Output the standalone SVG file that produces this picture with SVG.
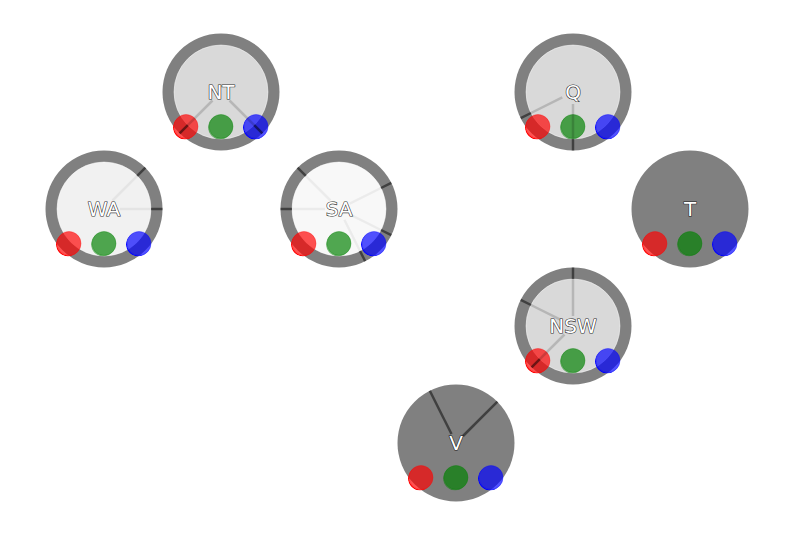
<svg xmlns="http://www.w3.org/2000/svg" xmlns:xlink="http://www.w3.org/1999/xlink" width="794" height="536" viewBox="0 0 794 536">
<style>
.ring{fill:#808080}
.disc{stroke:#fff;stroke-opacity:.45;stroke-width:1}
.dot{fill-opacity:.68;stroke-width:1;stroke-opacity:.35}
.r{fill:#f00;stroke:#f00}
.g{fill:#008000;stroke:#008000}
.b{fill:#00f;stroke:#00f}
.lbl{font-family:"DejaVu Sans",sans-serif;font-size:20px;fill:#fff;stroke:#000;stroke-width:1.2;stroke-opacity:.85;paint-order:stroke;text-anchor:middle}
.in{stroke:#000;stroke-opacity:.16;stroke-width:2.5;fill:none}
.faint{stroke-opacity:.05}
.seg{stroke:#000;stroke-opacity:.5;stroke-width:2.5;fill:none}
</style>
<defs>
<mask id="cm">
<circle cx="-1" cy="1" r="12" fill="#fff"/>
<circle cx="0" cy="0" r="12" fill="#000"/>
</mask>
<circle id="cr" cx="-1" cy="1" r="12" mask="url(#cm)"/>
<g id="dots">
<circle class="dot r" cx="-35" cy="34.5" r="12"/>
<circle class="dot g" cx="0" cy="34.5" r="12"/>
<circle class="dot b" cx="35" cy="34.5" r="12"/>
<use xlink:href="#cr" x="-35" y="34.5" fill="#f00"/>
<use xlink:href="#cr" x="0" y="34.5" fill="#008000" opacity=".5"/>
<use xlink:href="#cr" x="35" y="34.5" fill="#00f"/>
</g>
</defs>
<rect width="794" height="536" fill="#fff"/>

<g id="node-NT">
<circle class="ring" cx="221" cy="92" r="58.5"/>
<circle class="disc" cx="221" cy="92" r="47" fill="#d9d9d9"/>
<use xlink:href="#dots" x="221" y="92"/>
</g>
<g id="node-WA">
<circle class="ring" cx="104" cy="209" r="58.5"/>
<circle class="disc" cx="104" cy="209" r="47" fill="#f1f1f1"/>
<use xlink:href="#dots" x="104" y="209"/>
</g>
<g id="node-SA">
<circle class="ring" cx="339" cy="209" r="58.5"/>
<circle class="disc" cx="339" cy="209" r="47" fill="#f8f8f8"/>
<use xlink:href="#dots" x="339" y="209"/>
</g>
<g id="node-Q">
<circle class="ring" cx="573" cy="92" r="58.5"/>
<circle class="disc" cx="573" cy="92" r="47" fill="#d9d9d9"/>
<use xlink:href="#dots" x="573" y="92"/>
</g>
<g id="node-T">
<circle class="ring" cx="690" cy="209" r="58.5"/>
<use xlink:href="#dots" x="690" y="209"/>
</g>
<g id="node-NSW">
<circle class="ring" cx="573" cy="326" r="58.5"/>
<circle class="disc" cx="573" cy="326" r="47" fill="#d9d9d9"/>
<use xlink:href="#dots" x="573" y="326"/>
</g>
<g id="node-V">
<circle class="ring" cx="456" cy="443" r="58.5"/>
<use xlink:href="#dots" x="456" y="443"/>
</g>

<g id="connectors">
<line class="in" x1="212.5" y1="100.5" x2="187.8" y2="125.2"/>
<line class="seg" x1="187.8" y1="125.2" x2="179.6" y2="133.4"/>
<line class="in" x1="229.5" y1="100.5" x2="254.2" y2="125.2"/>
<line class="seg" x1="254.2" y1="125.2" x2="262.4" y2="133.4"/>
<line class="in faint" x1="112.5" y1="200.5" x2="137.2" y2="175.8"/>
<line class="seg" x1="137.2" y1="175.8" x2="145.4" y2="167.6"/>
<line class="in faint" x1="120" y1="209" x2="151" y2="209"/>
<line class="seg" x1="151" y1="209" x2="162.5" y2="209"/>
<line class="in faint" x1="325" y1="209" x2="292" y2="209"/>
<line class="seg" x1="292" y1="209" x2="280.5" y2="209"/>
<line class="in faint" x1="330.5" y1="200.5" x2="305.8" y2="175.8"/>
<line class="seg" x1="305.8" y1="175.8" x2="297.6" y2="167.6"/>
<line class="in faint" x1="349.7" y1="203.6" x2="381" y2="188"/>
<line class="seg" x1="381" y1="188" x2="391.3" y2="182.8"/>
<line class="in faint" x1="349.7" y1="214.4" x2="381" y2="230"/>
<line class="seg" x1="381" y1="230" x2="391.3" y2="235.2"/>
<line class="in faint" x1="344.4" y1="219.7" x2="360" y2="251"/>
<line class="seg" x1="360" y1="251" x2="365.2" y2="261.3"/>
<line class="in" x1="562.3" y1="97.4" x2="531" y2="113"/>
<line class="seg" x1="531" y1="113" x2="520.7" y2="118.2"/>
<line class="in" x1="573" y1="104" x2="573" y2="139"/>
<line class="seg" x1="573" y1="139" x2="573" y2="150.5"/>
<line class="in" x1="573" y1="316" x2="573" y2="279"/>
<line class="seg" x1="573" y1="279" x2="573" y2="267.5"/>
<line class="in" x1="562.3" y1="320.6" x2="531" y2="305"/>
<line class="seg" x1="531" y1="305" x2="520.7" y2="299.8"/>
<line class="in" x1="564.5" y1="334.5" x2="539.8" y2="359.2"/>
<line class="seg" x1="539.8" y1="359.2" x2="531.6" y2="367.4"/>
<line class="seg" x1="451.5" y1="434" x2="429.8" y2="390.7"/>
<line class="seg" x1="463" y1="436" x2="497.4" y2="401.6"/>
</g>

<g id="labels">
<text class="lbl" x="221" y="99">NT</text>
<text class="lbl" x="104" y="216">WA</text>
<text class="lbl" x="339" y="216">SA</text>
<text class="lbl" x="573" y="99">Q</text>
<text class="lbl" x="690" y="216">T</text>
<text class="lbl" x="573" y="333">NSW</text>
<text class="lbl" x="456" y="450">V</text>
</g>
</svg>
